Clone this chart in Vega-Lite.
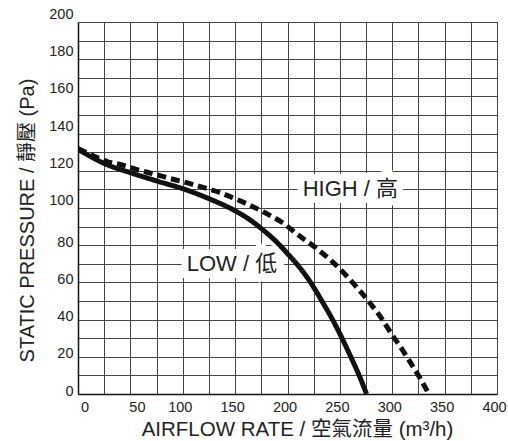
{
  "$schema": "https://vega.github.io/schema/vega-lite/v6.json",
  "width": 419,
  "height": 372,
  "autosize": {"type": "none"},
  "padding": {"left": 78, "top": 22, "right": 11, "bottom": 47},
  "config": {
    "view": {"stroke": null},
    "font": "Liberation Sans, Noto Sans CJK TC, sans-serif"
  },
  "datasets": {
    "curves": [
      {"series": "LOW", "airflow": 0, "pressure": 131.5},
      {"series": "LOW", "airflow": 26, "pressure": 123.7},
      {"series": "LOW", "airflow": 51, "pressure": 118.8},
      {"series": "LOW", "airflow": 76, "pressure": 114.4},
      {"series": "LOW", "airflow": 101, "pressure": 110.2},
      {"series": "LOW", "airflow": 126, "pressure": 104.8},
      {"series": "LOW", "airflow": 150, "pressure": 98.5},
      {"series": "LOW", "airflow": 164, "pressure": 93.7},
      {"series": "LOW", "airflow": 176, "pressure": 88.5},
      {"series": "LOW", "airflow": 190, "pressure": 81.5},
      {"series": "LOW", "airflow": 200, "pressure": 75.5},
      {"series": "LOW", "airflow": 209.5, "pressure": 69.5},
      {"series": "LOW", "airflow": 222, "pressure": 60},
      {"series": "LOW", "airflow": 232.8, "pressure": 50},
      {"series": "LOW", "airflow": 243, "pressure": 40},
      {"series": "LOW", "airflow": 251.8, "pressure": 30.3},
      {"series": "LOW", "airflow": 260.4, "pressure": 20},
      {"series": "LOW", "airflow": 268.4, "pressure": 10},
      {"series": "LOW", "airflow": 275.5, "pressure": 0},
      {"series": "HIGH", "airflow": 0, "pressure": 132},
      {"series": "HIGH", "airflow": 15, "pressure": 128},
      {"series": "HIGH", "airflow": 28, "pressure": 125},
      {"series": "HIGH", "airflow": 43, "pressure": 123},
      {"series": "HIGH", "airflow": 57, "pressure": 120.5},
      {"series": "HIGH", "airflow": 71, "pressure": 118.5},
      {"series": "HIGH", "airflow": 87, "pressure": 116},
      {"series": "HIGH", "airflow": 101, "pressure": 114},
      {"series": "HIGH", "airflow": 116, "pressure": 111.6},
      {"series": "HIGH", "airflow": 134, "pressure": 108.6},
      {"series": "HIGH", "airflow": 150, "pressure": 105},
      {"series": "HIGH", "airflow": 164, "pressure": 101.5},
      {"series": "HIGH", "airflow": 180, "pressure": 97},
      {"series": "HIGH", "airflow": 195, "pressure": 92.2},
      {"series": "HIGH", "airflow": 210, "pressure": 85.6},
      {"series": "HIGH", "airflow": 226, "pressure": 79},
      {"series": "HIGH", "airflow": 243, "pressure": 71},
      {"series": "HIGH", "airflow": 258, "pressure": 62.5},
      {"series": "HIGH", "airflow": 269, "pressure": 55.5},
      {"series": "HIGH", "airflow": 280, "pressure": 48},
      {"series": "HIGH", "airflow": 290, "pressure": 40.5},
      {"series": "HIGH", "airflow": 299, "pressure": 32.5},
      {"series": "HIGH", "airflow": 310, "pressure": 23.5},
      {"series": "HIGH", "airflow": 318, "pressure": 16.3},
      {"series": "HIGH", "airflow": 326, "pressure": 9},
      {"series": "HIGH", "airflow": 335, "pressure": 0}
    ],
    "labels": [
      {"label": "HIGH / 高", "airflow": 260, "pressure": 110},
      {"label": "LOW / 低", "airflow": 147, "pressure": 70}
    ]
  },
  "layer": [
    {
      "data": {"name": "labels"},
      "mark": {"type": "text", "fontSize": 22, "align": "center", "baseline": "middle", "fill": "white", "stroke": "white", "strokeWidth": 14, "strokeJoin": "miter"},
      "encoding": {
        "x": {"field": "airflow", "type": "quantitative", "scale": {"domain": [0, 400], "nice": false},
          "axis": {
            "title": "AIRFLOW RATE / 空氣流量 (m³/h)",
            "values": [0, 25, 50, 75, 100, 125, 150, 175, 200, 225, 250, 275, 300, 325, 350, 375, 400],
            "tickCount": 40,
            "labelExpr": "datum.value % 50 === 0 ? datum.label : ''",
            "ticks": false,
            "labelPadding": 6,
            "labelOffset": {"condition": {"test": "datum.value <= 50", "value": 6.5}, "value": -3},
            "labelFontSize": 14.5,
            "labelColor": "#222",
            "labelFlush": false,
            "labelOverlap": false,
            "gridColor": "#444",
            "gridWidth": 1,
            "gridOpacity": 1,
            "domainColor": "#111",
            "domainWidth": 1.5,
            "titleFontSize": 20.5,
            "titleFontWeight": "normal",
            "titleColor": "#222",
            "titleX": 219,
            "titleY": 41,
            "titleBaseline": "alphabetic",
            "titleAnchor": null,
            "titleAlign": "center"
          }
        },
        "y": {"field": "pressure", "type": "quantitative", "scale": {"domain": [0, 200], "nice": false},
          "axis": {
            "title": "STATIC PRESSURE / 靜壓 (Pa)",
            "values": [0, 10, 20, 30, 40, 50, 60, 70, 80, 90, 100, 110, 120, 130, 140, 150, 160, 170, 180, 190, 200],
            "tickCount": 40,
            "labelExpr": "datum.value % 20 === 0 ? datum.label : ''",
            "ticks": false,
            "labelPadding": 5,
            "labelOffset": {"condition": {"test": "datum.value >= 100", "value": -7.5}, "value": -3},
            "labelFontSize": 14.5,
            "labelColor": "#222",
            "labelFlush": false,
            "labelOverlap": false,
            "gridColor": "#444",
            "gridWidth": 1,
            "gridOpacity": 1,
            "domainColor": "#111",
            "domainWidth": 1.5,
            "titleFontSize": 20,
            "titleFontWeight": "normal",
            "titleColor": "#222",
            "titleX": -51,
            "titleY": 198,
            "titleBaseline": "middle",
            "titleAlign": "center",
            "titleAnchor": null
          }
        },
        "text": {"field": "label", "type": "nominal"}
      }
    },
    {
      "data": {"name": "curves"},
      "mark": {"type": "line", "interpolate": "monotone", "strokeWidth": 5, "color": "#111", "clip": true},
      "encoding": {
        "x": {"field": "airflow", "type": "quantitative"},
        "y": {"field": "pressure", "type": "quantitative"},
        "detail": {"field": "series", "type": "nominal"},
        "strokeDash": {"field": "series", "type": "nominal", "scale": {"domain": ["LOW", "HIGH"], "range": [[1, 0], [9, 5]]}, "legend": null}
      }
    },
    {
      "data": {"name": "labels"},
      "mark": {"type": "text", "fontSize": 22, "align": "center", "baseline": "middle", "fill": "#222"},
      "encoding": {
        "x": {"field": "airflow", "type": "quantitative"},
        "y": {"field": "pressure", "type": "quantitative"},
        "text": {"field": "label", "type": "nominal"}
      }
    }
  ]
}
